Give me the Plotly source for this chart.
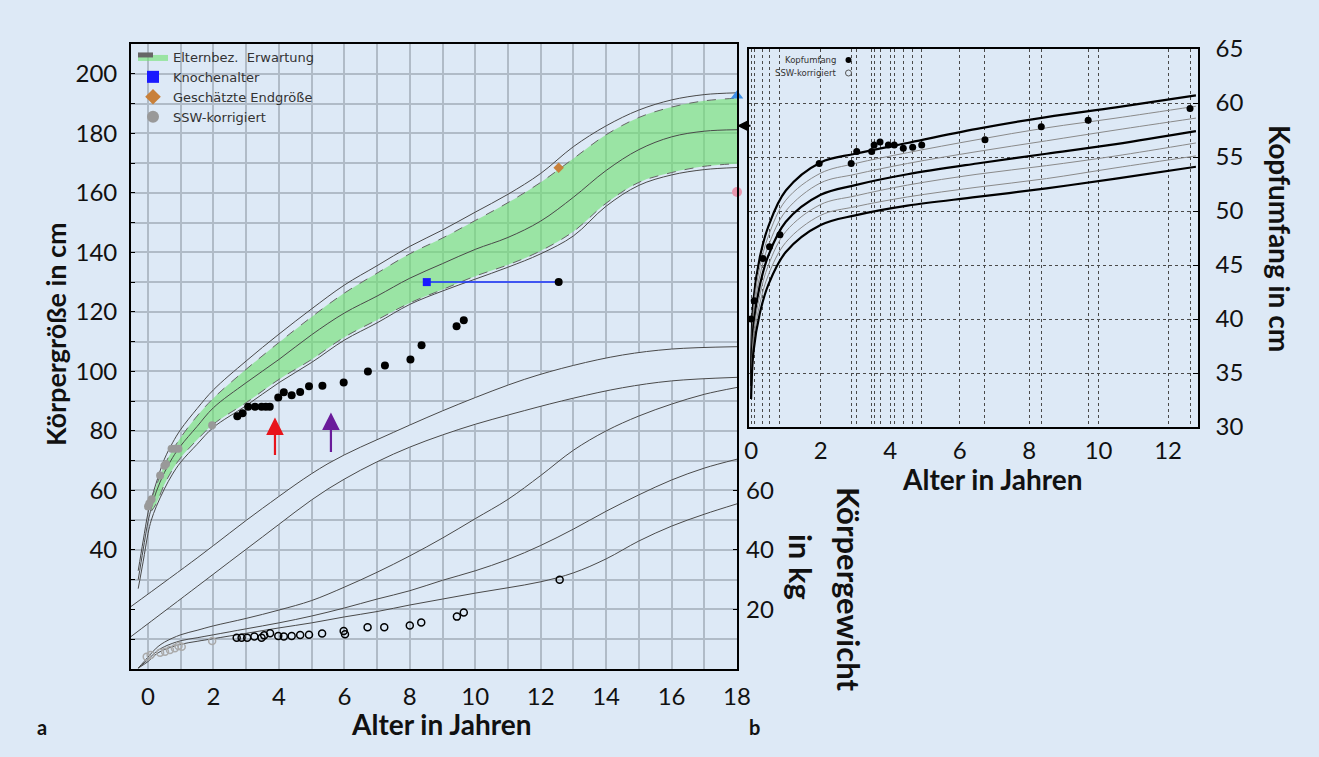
import plotly.graph_objects as go

W, H = 1319, 757
BG = '#dde9f6'
GRID = '#b0bbc7'
FONT = 'Lato'


def px(x):
    return x / W


def py(y):
    return 1 - y / H


# ---------------- data: left panel (height / weight) ----------------
# reference curves for height (cm)
h_curve_age = [-0.3, -0.15, 0, 0.1, 0.25, 0.5, 0.75, 1, 1.5, 2, 3, 4, 5, 6, 7, 8, 9, 10, 11, 12, 13, 14, 15, 16, 17, 18]
h_curve_hi = [33, 43, 52.5, 57, 62.5, 70.5, 76, 80.5, 87.5, 93.8, 103.5, 112.5, 121, 129, 135.5, 142, 147.5, 153.5, 159.5, 166.5, 175.5, 182.5, 187.8, 191.2, 193, 193.6]
h_curve_mid = [30, 40, 49.5, 54, 59.5, 66, 71, 75, 81.5, 87.8, 96.2, 104, 112.3, 119.6, 125.3, 131.3, 136.2, 141, 145, 150.5, 158.5, 167.5, 174.5, 178.8, 180.7, 181.2]
h_curve_lo = [27, 36, 45.5, 50, 54.5, 60.5, 65.5, 69.5, 75.5, 81.2, 88.5, 96.2, 103, 110.5, 116.3, 122.5, 127, 131, 135, 139.5, 145.5, 155.5, 162.5, 166, 167.8, 168.5]

# parent-related expectation band (Elternbez. Erwartung)
band_age = [0.1, 0.25, 0.5, 0.75, 1, 1.5, 2, 3, 4, 5, 6, 7, 8, 9, 10, 11, 12, 13, 14, 15, 16, 17, 18]
band_hi = [57, 61.5, 68.5, 73.5, 77.8, 85, 91, 100.7, 109.7, 118.3, 126.3, 133, 139.5, 144.8, 150.7, 156.7, 163.5, 171.5, 179.5, 185.3, 188.8, 190.9, 191.8]
band_lo = [53, 55.5, 62, 67, 71, 77, 82.3, 89.5, 97.3, 104, 111.5, 117.3, 123, 127.5, 132, 135.8, 140.5, 147, 156.5, 163.5, 166.8, 168.9, 169.8]

# separator band between height and weight charts
sep_age = [-0.52, 1.5, 3.5, 5.5, 7.5, 9.5, 11.5, 13, 14.5, 16, 18]
sep_hi = [21, 37.3, 54, 69, 79.5, 89, 97.3, 102, 105.5, 107.5, 108.3]
sep_lo = [10.9, 27.7, 44.4, 60.5, 72.2, 80.5, 86.8, 91, 94.5, 96.8, 98]

# reference curves for weight (kg)
w_curve_age = [-0.3, 0, 0.25, 0.5, 1, 1.5, 2, 3, 4, 5, 6, 7, 8, 9, 10, 11, 12, 13, 14, 15, 16, 17, 18]
w_curve_hi = [0.3, 4, 7, 9, 11.5, 13, 14.5, 17, 19.8, 23, 27.5, 32.5, 38, 44, 50.5, 57, 65, 73.5, 80, 85, 89, 92.3, 94.6]
w_curve_mid = [0.3, 3.2, 5.8, 7.5, 9.5, 10.5, 11.5, 13.5, 15.5, 17.8, 20.5, 23.5, 26.3, 29.8, 33, 36.8, 41.5, 47, 53, 58.5, 63.5, 67.5, 70.5]
w_curve_lo = [0.3, 2.5, 5, 6.5, 8.3, 9.3, 10.2, 12, 13.8, 15.5, 17.5, 19.3, 21.5, 23.5, 25.5, 27.3, 29.3, 32.3, 37, 43, 48, 52, 55.5]

# measurements: height
height_age = [2.73, 2.89, 3.06, 3.27, 3.47, 3.60, 3.72, 3.98, 4.15, 4.39, 4.65, 4.92, 5.33, 5.98, 6.72, 7.24, 8.02, 8.36, 9.43, 9.65, 12.55]
height_cm = [84.9, 85.9, 88.1, 88.1, 88.1, 88.1, 88.1, 91.2, 93.0, 92.0, 93.1, 95.0, 95.2, 96.3, 100.0, 102.0, 104.0, 108.8, 115.2, 117.2, 130.0]
ssw_height_age = [0.0, 0.04, 0.11, 0.37, 0.50, 0.55, 0.72, 0.82, 0.93, 1.96]
ssw_height_cm = [54.6, 55.6, 57.0, 65.0, 68.3, 68.9, 74.0, 74.0, 74.0, 81.9]

# measurements: weight
weight_age = [2.71, 2.86, 3.03, 3.25, 3.47, 3.55, 3.73, 3.98, 4.15, 4.39, 4.65, 4.92, 5.32, 5.98, 6.02, 6.71, 7.22, 8.0, 8.35, 9.44, 9.65, 12.58]
weight_kg = [10.5, 10.5, 10.5, 10.9, 10.5, 11.3, 12.0, 11.1, 10.9, 11.1, 11.4, 11.5, 11.9, 12.8, 11.7, 14.0, 14.0, 14.6, 15.6, 17.6, 19.0, 30.0]
ssw_weight_age = [-0.04, 0.08, 0.37, 0.52, 0.67, 0.82, 0.93, 1.03, 1.96]
ssw_weight_kg = [4.1, 4.7, 5.5, 5.8, 6.4, 7.0, 7.7, 7.5, 9.4]

# bone age, estimated final height, markers at 18 y
bone_age = 8.52
bone_chron_age = 12.55
bone_height = 130.0
final_est_age = 12.55
final_est_cm = 168.4
target_age = 18
target_tri_cm = 192.6
target_arrow_cm = 182.5
target_dot_cm = 160.3

arrow_age = [3.88, 5.59]
arrow_tip = [84.5, 86.2]
arrow_tail = [71.4, 72.4]
arrow_color = ['#e8141b', '#6a1b9a']

# ---------------- data: right panel (head circumference) ----------------
hc_age = [0.0, 0.09, 0.34, 0.53, 0.83, 1.96, 2.88, 3.04, 3.47, 3.54, 3.71, 3.95, 4.12, 4.38, 4.65, 4.91, 6.73, 8.35, 9.70, 12.63]
hc_cm = [40.0, 41.7, 45.6, 46.7, 47.8, 54.4, 54.4, 55.5, 55.5, 56.1, 56.4, 56.1, 56.1, 55.8, 55.9, 56.1, 56.6, 57.8, 58.4, 59.5]

hc_curve_age = [0, 0.07, 0.25, 0.5, 1, 2, 3, 4.5, 6.5, 8.5, 10.5, 12.8]
hc_curves = [
    [35.0, 41.8, 45.7, 48.6, 51.9, 54.5, 55.3, 56.3, 57.6, 58.7, 59.6, 60.7],
    [34.6, 41.0, 44.8, 47.7, 51.0, 53.5, 54.4, 55.4, 56.6, 57.7, 58.6, 59.7],
    [34.2, 40.2, 44.0, 46.8, 50.0, 52.6, 53.4, 54.4, 55.5, 56.5, 57.5, 58.6],
    [33.8, 39.4, 43.1, 45.9, 49.0, 51.5, 52.4, 53.4, 54.4, 55.3, 56.2, 57.4],
    [33.4, 38.6, 42.2, 45.0, 48.1, 50.6, 51.4, 52.4, 53.4, 54.2, 55.1, 56.3],
    [33.0, 37.8, 41.4, 44.1, 47.1, 49.6, 50.4, 51.3, 52.2, 53.0, 54.0, 55.1],
    [32.6, 37.0, 40.5, 43.2, 46.2, 48.7, 49.6, 50.5, 51.3, 52.1, 53.0, 54.1],
]
hc_curve_thick = [True, False, False, True, False, False, True]

x_labels_left = list(range(0, 19))
y_ticks_left = list(range(10, 201, 10))
y_ticks_weight = [20, 40, 60]
x_labels_right = list(range(0, 13, 2))
y_ticks_right = list(range(30, 66, 5))

# ---------------- figure ----------------
fig = go.Figure()
LINE = '#4a4a4a'

# separator band
fig.add_trace(go.Scatter(x=sep_age, y=sep_lo, mode='lines', line=dict(color=LINE, width=1, shape='spline'),
                         showlegend=False, hoverinfo='skip'))
fig.add_trace(go.Scatter(x=sep_age, y=sep_hi, mode='lines', line=dict(color=LINE, width=1, shape='spline'),
                         fill='tonexty', fillcolor=BG, showlegend=False, hoverinfo='skip'))

# weight curves
for ys in (w_curve_hi, w_curve_mid, w_curve_lo):
    fig.add_trace(go.Scatter(x=w_curve_age, y=ys, mode='lines', yaxis='y2',
                             line=dict(color=LINE, width=1, shape='spline'), showlegend=False, hoverinfo='skip'))

# height outer curves
for ys in (h_curve_hi, h_curve_lo):
    fig.add_trace(go.Scatter(x=h_curve_age, y=ys, mode='lines', line=dict(color=LINE, width=1, shape='spline'),
                             showlegend=False, hoverinfo='skip'))

# band
fig.add_trace(go.Scatter(x=band_age, y=band_lo, mode='lines',
                         line=dict(color='#666666', width=1, dash='dash', shape='spline'),
                         showlegend=False, hoverinfo='skip'))
fig.add_trace(go.Scatter(x=band_age, y=band_hi, mode='lines', name='Elternbez.  Erwartung',
                         line=dict(color='#666666', width=1, dash='dash', shape='spline'),
                         fill='tonexty', fillcolor='rgba(110,225,110,0.6)', hoverinfo='skip'))
fig.add_trace(go.Scatter(x=h_curve_age, y=h_curve_mid, mode='lines', line=dict(color=LINE, width=1, shape='spline'),
                         showlegend=False, hoverinfo='skip'))

# bone age
fig.add_trace(go.Scatter(x=[bone_age, bone_chron_age], y=[bone_height, bone_height], mode='lines',
                         line=dict(color='#1a33ff', width=1.5), showlegend=False, hoverinfo='skip'))
fig.add_trace(go.Scatter(x=[bone_age], y=[bone_height], mode='markers', name='Knochenalter',
                         marker=dict(symbol='square', size=8, color='#1a1aff')))
fig.add_trace(go.Scatter(x=[final_est_age], y=[final_est_cm], mode='markers', name='Geschätzte Endgröße',
                         marker=dict(symbol='diamond', size=8, color='#c8803a')))
fig.add_trace(go.Scatter(x=ssw_height_age, y=ssw_height_cm, mode='markers', name='SSW-korrigiert',
                         marker=dict(symbol='circle', size=8, color='#999999')))
fig.add_trace(go.Scatter(x=height_age, y=height_cm, mode='markers', showlegend=False,
                         marker=dict(symbol='circle', size=8, color='black')))
fig.add_trace(go.Scatter(x=weight_age, y=weight_kg, mode='markers', yaxis='y2', showlegend=False,
                         marker=dict(symbol='circle-open', size=7, color='black', line=dict(width=1.5))))
fig.add_trace(go.Scatter(x=ssw_weight_age, y=ssw_weight_kg, mode='markers', yaxis='y2', showlegend=False,
                         marker=dict(symbol='circle-open', size=7, color='#aaaaaa', line=dict(width=1.5))))
fig.add_trace(go.Scatter(x=[target_age], y=[target_tri_cm], mode='markers', showlegend=False, cliponaxis=False,
                         marker=dict(symbol='triangle-up', size=11, color='#3d8fe8')))
fig.add_trace(go.Scatter(x=[target_age], y=[target_dot_cm], mode='markers', showlegend=False, cliponaxis=False,
                         marker=dict(symbol='circle', size=10, color='#e896ae')))

# right panel curves
for ys, thick in zip(hc_curves, hc_curve_thick):
    fig.add_trace(go.Scatter(x=hc_curve_age, y=ys, mode='lines', xaxis='x3', yaxis='y3',
                             line=dict(color='black' if thick else '#8a8a8a', width=2.2 if thick else 1,
                                       shape='spline'), showlegend=False, hoverinfo='skip'))
fig.add_trace(go.Scatter(x=hc_age, y=hc_cm, mode='markers', xaxis='x3', yaxis='y3', showlegend=False,
                         cliponaxis=False, marker=dict(symbol='circle', size=7, color='black')))

# ---------------- axes ----------------
tickfont = dict(family=FONT, size=24, color='#111111')
rgrid = dict(showgrid=True, gridcolor='#4a4a4a', gridwidth=0.9, griddash='3px,3px')
fig.update_layout(
    width=W, height=H, margin=dict(l=0, r=0, t=0, b=0, pad=0, autoexpand=False),
    paper_bgcolor=BG, plot_bgcolor=BG,
    xaxis=dict(domain=[px(131), px(737)], range=[-0.52, 18], anchor='y', automargin=False,
               tickmode='array', tickvals=x_labels_left,
               ticktext=[str(v) if v % 2 == 0 else '' for v in x_labels_left],
               showgrid=True, gridcolor=GRID, gridwidth=1.6, zeroline=False,
               showline=True, linecolor='black', linewidth=1.5, mirror=True,
               ticks='', tickfont=tickfont, ticklabelstandoff=5),
    yaxis=dict(domain=[py(669), py(44)], range=[0, 210], anchor='x', automargin=False,
               tickmode='array', tickvals=y_ticks_left,
               ticktext=[str(v) if v >= 40 and v % 20 == 0 else '' for v in y_ticks_left],
               showgrid=True, gridcolor=GRID, gridwidth=1.6, zeroline=False,
               showline=True, linecolor='black', linewidth=1.8, mirror=True,
               ticks='inside', ticklen=4, tickcolor='black', tickfont=tickfont, ticklabelstandoff=7),
    yaxis2=dict(overlaying='y', side='right', range=[0, 210], anchor='x', automargin=False,
                tickmode='array', tickvals=y_ticks_weight, showgrid=False, zeroline=False,
                ticks='inside', ticklen=4, tickcolor='black', tickfont=tickfont, ticklabelstandoff=8),
    xaxis3=dict(domain=[px(749), px(1198)], range=[-0.06, 12.86], anchor='y3', automargin=False,
                tickmode='array',
                tickvals=sorted(set([a for a in hc_age if min(abs(a - e) for e in x_labels_right) > 0.06]
                                    + x_labels_right)),
                zeroline=False, showline=True, linecolor='black', linewidth=1.5, mirror=True,
                ticks='', tickfont=tickfont, ticklabelstandoff=1),
    yaxis3=dict(domain=[py(427), py(49)], range=[30, 65], anchor='x3', side='right', automargin=False,
                tickmode='array', tickvals=y_ticks_right, zeroline=False,
                showline=True, linecolor='black', linewidth=1.5, mirror=True,
                ticks='inside', ticklen=5, tickcolor='black', tickfont=tickfont, ticklabelstandoff=11),
    legend=dict(x=px(133), y=py(42), xanchor='left', yanchor='top', bgcolor='rgba(0,0,0,0)',
                font=dict(family='DejaVu Sans', size=13, color='#333333'), tracegroupgap=0,
                traceorder='normal', itemsizing='constant'),
    showlegend=True,
)
fig.update_xaxes(selector=dict(anchor='y3'), **rgrid)
fig.update_yaxes(selector=dict(anchor='x3'), **rgrid)
# right-panel x tick text only at even years
tv = fig.layout.xaxis3.tickvals
fig.layout.xaxis3.ticktext = [str(int(v)) if float(v).is_integer() and int(v) % 2 == 0 else '' for v in tv]

# ---------------- annotations ----------------
ann = []
bold = dict(family=FONT, size=28, color='#111111')
big = dict(family=FONT, size=31, color='#111111')


def label(text, x, y, angle=0, font=bold, xanchor='center'):
    ann.append(dict(text=text, x=px(x), y=py(y), xref='paper', yref='paper', textangle=angle,
                    xanchor=xanchor, yanchor='middle', showarrow=False, font=font))


label('<b>Körpergröße in cm</b>', 55, 334, -90, font=dict(family=FONT, size=27, color='#111111'))
label('<b>Alter in Jahren</b>', 441, 724)
label('<b>Alter in Jahren</b>', 992, 479)
label('<b>Kopfumfang in cm</b>', 1280, 238, 90)
label('<b>Körpergewicht</b>', 849, 589, 90, font=big)
label('<b>in kg</b>', 801, 567, 90, font=big)
label('<b>a</b>', 42, 727, font=dict(family=FONT, size=20, color='#111111'))
label('<b>b</b>', 754, 727, font=dict(family=FONT, size=20, color='#111111'))
small = dict(family='DejaVu Sans', size=8.5, color='#333333')
label('Kopfumfang', 838, 60, font=small, xanchor='right')
label('SSW-korrigiert', 838, 73, font=small, xanchor='right')

for a, tip, tail, c in zip(arrow_age, arrow_tip, arrow_tail, arrow_color):
    ann.append(dict(x=a, y=tip, ax=a, ay=tail, xref='x', yref='y', axref='x', ayref='y', text='',
                    showarrow=True, arrowhead=2, arrowsize=1.6, arrowwidth=2.2, arrowcolor=c))
ann.append(dict(x=target_age, y=target_arrow_cm, xref='x', yref='y', ax=15, ay=0, text='',
                showarrow=True, arrowhead=2, arrowsize=1.0, arrowwidth=2, arrowcolor='black'))
fig.update_layout(annotations=ann)

fig.update_layout(shapes=[
    dict(type='circle', xref='paper', yref='paper', x0=px(845.5), x1=px(851.5), y0=py(57), y1=py(63),
         fillcolor='black', line=dict(width=0)),
    dict(type='circle', xref='paper', yref='paper', x0=px(845.5), x1=px(851.5), y0=py(70), y1=py(76),
         fillcolor='rgba(0,0,0,0)', line=dict(width=1, color='#555555')),
])

fig.write_html('out.html')
